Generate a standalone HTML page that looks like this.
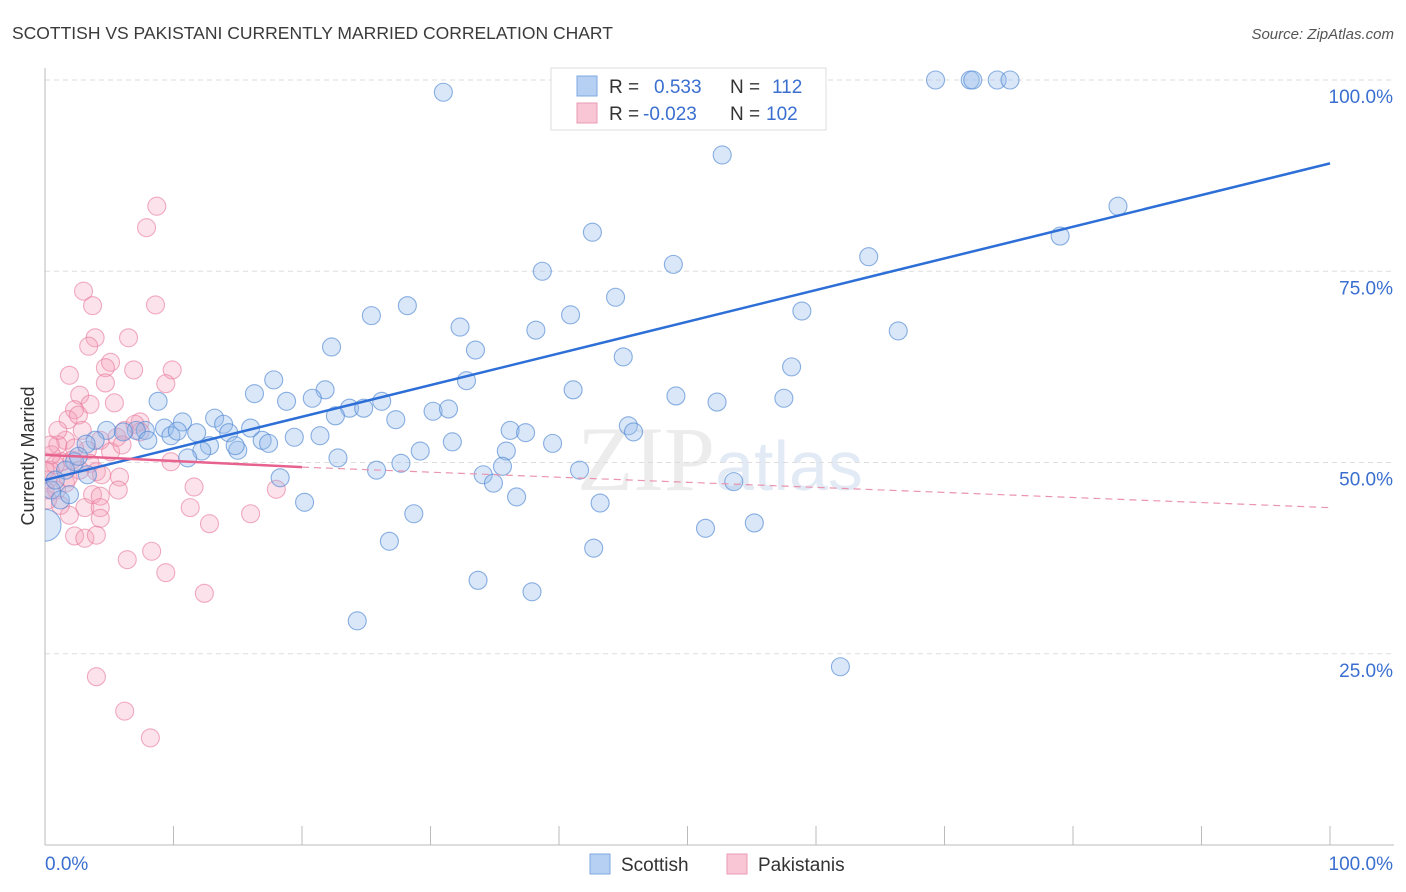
<!DOCTYPE html>
<html><head><meta charset="utf-8"><style>
body{margin:0;background:#fff;font-family:"Liberation Sans",sans-serif}
svg{display:block}
</style></head><body>
<svg id="c" width="1406" height="892" viewBox="0 0 1406 892" xmlns="http://www.w3.org/2000/svg">
<defs><clipPath id="plotclip"><rect x="45" y="60" width="1360" height="785"/></clipPath></defs>
<text x="12" y="39" font-size="17.5" fill="#3a3a3a" font-family="Liberation Sans, sans-serif">SCOTTISH VS PAKISTANI CURRENTLY MARRIED CORRELATION CHART</text>
<text x="1394" y="39" font-size="15" fill="#555" text-anchor="end" font-style="italic">Source: ZipAtlas.com</text>
<text x="720" y="490" font-size="92" fill="#ececec" text-anchor="middle" font-family="Liberation Serif, serif">ZIP<tspan font-family="Liberation Sans, sans-serif" font-size="70" fill="#e2eaf5">atlas</tspan></text>
<g id="grid"></g>
<g id="axes"></g>
<g id="pts" clip-path="url(#plotclip)"></g>
<g id="trend"></g>
<text transform="translate(34,456) rotate(-90)" font-size="18" fill="#333" text-anchor="middle">Currently Married</text>
<g>
<rect x="551" y="68" width="275" height="62" fill="#fff" stroke="#ddd"/>
<rect x="577" y="76" width="20" height="20" fill="#b5d0f2" stroke="#7ea8e0"/>
<rect x="577" y="103" width="20" height="20" fill="#f9c6d5" stroke="#eb9ab3"/>
<text x="609" y="93" font-size="19" fill="#333">R = </text><text x="654" y="93" font-size="19" fill="#3a6fd0">0.533</text>
<text x="730" y="93" font-size="19" fill="#333">N = </text><text x="772" y="93" font-size="19" fill="#3a6fd0">112</text>
<text x="609" y="120" font-size="19" fill="#333">R = </text><text x="643" y="120" font-size="19" fill="#3a6fd0">-0.023</text>
<text x="730" y="120" font-size="19" fill="#333">N = </text><text x="766" y="120" font-size="19" fill="#3a6fd0">102</text>
</g>
<g>
<rect x="590" y="854" width="20" height="20" fill="#b5d0f2" stroke="#7ea8e0"/>
<text x="621" y="871" font-size="19" fill="#333">Scottish</text>
<rect x="727" y="854" width="20" height="20" fill="#f9c6d5" stroke="#eb9ab3"/>
<text x="758" y="871" font-size="19" fill="#333">Pakistanis</text>
</g>
</svg>
<script>
const yTicks=[25,50,75,100];
const yTickLabels=["25.0%","50.0%","75.0%","100.0%"];
const xTicks=[0,10,20,30,40,50,60,70,80,90,100];
const xEndLabels=["0.0%","100.0%"];
const scottishX=[31.0,69.3,72.0,72.2,74.1,75.1,51.9,47.5,52.7,83.5,79.0,42.6,64.1,48.9,38.7,44.4,28.2,25.4,40.9,58.9,32.3,38.2,66.4,22.3,33.5,45.0,58.1,17.8,32.8,21.8,41.1,16.3,8.8,18.8,20.8,26.2,49.1,52.3,57.5,23.7,22.6,24.8,30.2,31.4,27.3,13.2,10.7,9.3,13.9,16.0,7.8,4.8,7.1,6.1,9.8,11.8,10.3,14.3,16.9,17.4,19.4,21.4,31.7,36.2,37.4,45.4,45.8,39.5,8.0,12.8,12.2,15.0,14.8,11.1,3.9,3.2,2.3,2.6,22.8,29.2,35.9,27.7,25.8,35.6,34.1,41.6,34.9,53.6,18.3,20.2,28.7,43.2,36.7,55.2,51.4,26.8,42.7,33.7,37.9,24.3,61.9,0,0.5,1.2,1.9,1.6,0.8,3.3];
const scottishY=[98.4,100,100,100,100,100,100,97.4,90.2,83.5,79.6,80.1,76.9,75.9,75.0,71.6,70.5,69.2,69.3,69.8,67.7,67.3,67.2,65.1,64.7,63.8,62.5,60.8,60.7,59.5,59.5,59.0,58.0,58.0,58.4,58.0,58.7,57.9,58.4,57.1,56.1,57.1,56.7,57.0,55.6,55.8,55.3,54.5,55.0,54.5,54.2,54.2,54.2,54.0,53.5,53.9,54.1,53.9,52.9,52.5,53.3,53.5,52.7,54.2,53.9,54.8,54.0,52.5,52.9,52.2,51.5,51.6,52.2,50.6,52.9,52.4,50.1,50.8,50.6,51.5,51.5,49.9,49.0,49.5,48.4,49.0,47.3,47.5,48.0,44.8,43.3,44.7,45.5,42.1,41.4,39.7,38.8,34.6,33.1,29.3,23.3,41.8,46.4,45.1,45.8,49.0,47.7,48.4];
const pakX=[8.7,7.9,3.0,3.7,8.6,3.9,6.5,3.4,5.1,4.7,6.9,9.9,9.4,1.9,4.7,2.7,3.5,5.4,2.3,1.8,2.6,7.4,2.9,6.2,1.6,1.0,4.3,5.6,7.0,3.3,2.3,1.3,2.1,0.8,0.4,0.2,0.9,1.6,3.5,4.0,4.4,5.8,5.7,9.8,11.6,3.7,4.3,1.2,3.1,4.3,11.3,1.9,4.3,16.0,12.8,18.0,2.3,3.1,4.0,8.3,6.4,9.4,12.4,4.0,6.2,8.2,0.2,0.5,1.0,1.8,2.7,5.1,6.0,7.4,0,0,0.4];
const pakY=[83.5,80.7,72.4,70.5,70.6,66.3,66.3,65.2,63.1,62.4,62.1,62.1,60.3,61.4,60.4,58.8,57.6,57.8,56.9,55.6,56.2,55.3,54.2,54.2,52.9,52.3,52.9,53.3,55.0,51.6,51.9,50.1,50.3,49.7,49.0,47.7,46.4,47.3,49.9,48.8,48.4,48.1,46.4,50.1,46.8,45.8,45.6,44.4,44.1,44.1,44.1,43.1,42.7,43.3,42.0,46.5,40.4,40.1,40.5,38.4,37.3,35.6,32.9,22.0,17.5,14.0,45.1,51.0,54.2,48.0,49.0,51.4,52.3,54.0,49.0,46.4,52.3];
const scottishTrend=[[0,47.7],[100,89.1]];
const pakTrend=[[0,51.0],[20,49.4],[100,44.1]];

const NS="http://www.w3.org/2000/svg";
const X0=45,X1=1330,Y0=845,Y1=80;
function sx(v){return X0+(X1-X0)*v/100;}
function sy(v){return Y0-(Y0-Y1)*v/100;}
function mk(tag,attrs,parent){const e=document.createElementNS(NS,tag);for(const k in attrs)e.setAttribute(k,attrs[k]);parent.appendChild(e);return e;}
const grid=document.getElementById('grid'),axes=document.getElementById('axes'),pts=document.getElementById('pts'),trend=document.getElementById('trend');
yTicks.forEach((t,i)=>{
 const l=mk('line',{x1:X0,x2:1394,y1:sy(t),y2:sy(t),stroke:'#ddd','stroke-dasharray':'5,4'},grid);
 
 
 const tx=mk('text',{x:1393,y:sy(t)+23,'font-size':19,fill:'#3a6fd0','text-anchor':'end'},axes);
 tx.textContent=yTickLabels[i];
 
 
});
const ax=mk('line',{x1:X0,x2:X0,y1:68,y2:Y0,stroke:'#bbb'},axes);


const bx=mk('line',{x1:X0,x2:1394,y1:Y0,y2:Y0,stroke:'#bbb'},axes);


xTicks.forEach(t=>{
 const l=mk('line',{x1:sx(t),x2:sx(t),y1:826,y2:Y0,stroke:'#bbb'},axes);
 
 
});
const xl0=mk('text',{x:45,y:870,'font-size':19,fill:'#3a6fd0'},axes);xl0.textContent=xEndLabels[0];


const xl1=mk('text',{x:1393,y:870,'font-size':19,fill:'#3a6fd0','text-anchor':'end'},axes);xl1.textContent=xEndLabels[1];


pakX.forEach((v,i)=>{
 const c=mk('circle',{cx:sx(v),cy:sy(pakY[i]),r:9,fill:'rgba(244,160,186,0.3)',stroke:'rgba(232,120,155,0.6)','stroke-width':1.1},pts);
 
 
});
scottishX.forEach((v,i)=>{
 const big=(v===0);
 const c=mk('circle',{cx:sx(v),cy:sy(scottishY[i]),r:big?16:9,fill:'rgba(150,188,236,0.36)',stroke:'rgba(80,135,210,0.65)','stroke-width':1.1},pts);
 
 
});
const bt=mk('line',{x1:sx(scottishTrend[0][0]),y1:sy(scottishTrend[0][1]),x2:sx(scottishTrend[1][0]),y2:sy(scottishTrend[1][1]),stroke:'#2d6fd6','stroke-width':2.5},trend);


const pt1=mk('line',{x1:sx(pakTrend[0][0]),y1:sy(pakTrend[0][1]),x2:sx(pakTrend[1][0]),y2:sy(pakTrend[1][1]),stroke:'#e8628f','stroke-width':2.5},trend);


const pt2=mk('line',{x1:sx(pakTrend[1][0]),y1:sy(pakTrend[1][1]),x2:sx(pakTrend[2][0]),y2:sy(pakTrend[2][1]),stroke:'#eb94ae','stroke-width':1.2,'stroke-dasharray':'7,5'},trend);


</script>
</body></html>
